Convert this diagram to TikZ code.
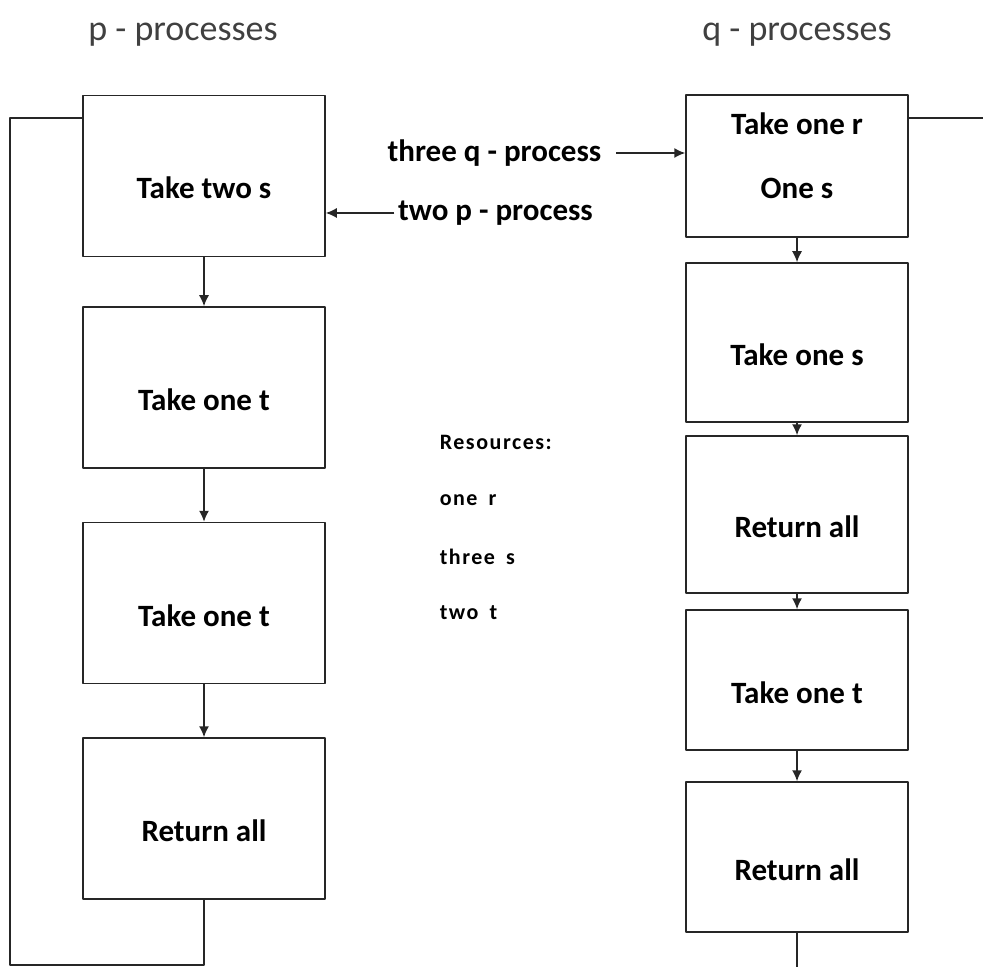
\documentclass[tikz,border=0pt]{standalone}
\usepackage{fontspec}
\setmainfont{Carlito}
\usetikzlibrary{arrows.meta}

\begin{document}
\begin{tikzpicture}[x=0.5pt,y=-0.5pt,line join=round,line width=0.75pt,
  box/.style={draw=black!85,inner sep=0pt,font=\fontsize{15.5}{19}\selectfont\bfseries},
  stage/.style={box,text height=23pt,text depth=0pt},
  pbox/.style={stage,minimum width=121pt,minimum height=80.5pt},
  qbox/.style={minimum width=111pt},
  flow/.style={draw=black!85,-{Latex[length=5.5pt,width=5pt]}},
  heading/.style={font=\fontsize{18}{22}\selectfont,text=black!75},
  msg/.style={font=\fontsize{15.5}{19}\selectfont\bfseries},
  res/.style={anchor=west,inner sep=0pt,font=\fontsize{11}{13}\selectfont\bfseries\addfontfeature{LetterSpace=7}}]
\useasboundingbox (0,0) rectangle (983,967);
\node[heading] (ptitle) at (183,35) {p - processes};
\node[heading] (qtitle) at (797,35) {q - processes};
\node[pbox] (p1) at (204,176) {Take two s};
\node[pbox] (p2) at (204,387.5) {Take one t};
\node[pbox] (p3) at (204,603) {Take one t};
\node[pbox] (p4) at (204,818.5) {Return all};
\node[box,qbox,align=center,minimum height=71pt,text depth=10pt] (q1) at (797,166) {Take one r\\[13pt]One s};
\node[stage,qbox,minimum height=79.5pt] (q2) at (797,342.5) {Take one s};
\node[stage,qbox,minimum height=78.5pt] (q3) at (797,514.5) {Return all};
\node[stage,qbox,minimum height=70pt] (q4) at (797,680) {Take one t};
\node[stage,qbox,minimum height=75pt] (q5) at (797,857) {Return all};
\foreach \a/\b in {p1/p2,p2/p3,p3/p4,q1/q2,q2/q3,q3/q4,q4/q5} \draw[flow] (\a) -- (\b);
\coordinate (lb) at (10,965);
\coordinate (lt) at (10,118);
\coordinate (qe) at (983,118);
\coordinate (qb) at (797,967);
\draw[black!85] (p4.south) |- (lb) -- (lt) -- (lt -| p1.west);
\draw[black!85] (q1.east |- qe) -- (qe);
\draw[black!85] (q5) -- (qb);
\node[msg,inner xsep=7pt] (tq) at (494.5,153) {three q - process};
\node[msg,inner xsep=1.5pt] (tp) at (495.5,213) {two p - process};
\draw[flow] (tq.east) -- (tq.east -| q1.west);
\draw[flow] (tp.west) -- (tp.west -| p1.east);
\foreach \t/\y [count=\i] in {Resources:/442,one\enspace r/500,three\enspace s/557,two\enspace t/613}
  \node[res] (res\i) at (439,\y) {\t};
\end{tikzpicture}
\end{document}
